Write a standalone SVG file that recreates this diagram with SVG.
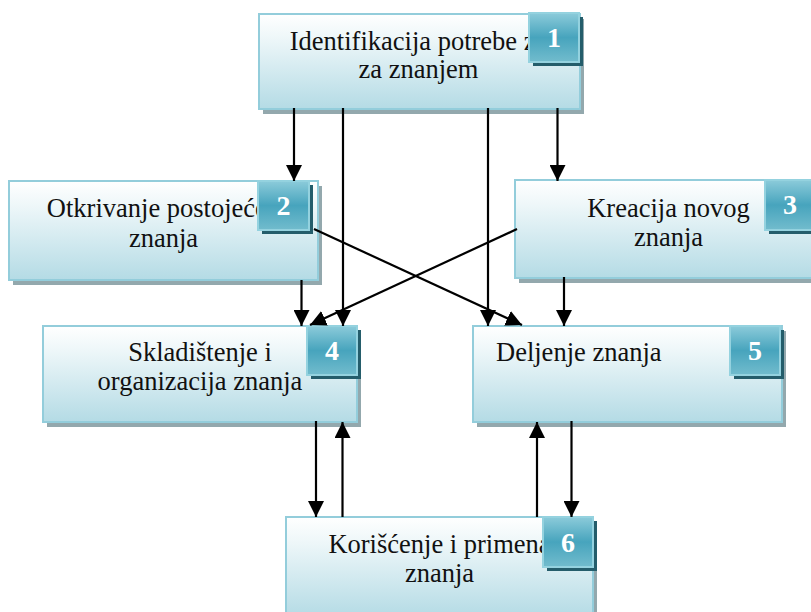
<svg xmlns="http://www.w3.org/2000/svg" width="811" height="612" viewBox="0 0 811 612">
<defs>
<linearGradient id="boxg" x1="0" y1="0" x2="0" y2="1">
<stop offset="0" stop-color="#ffffff"/>
<stop offset="0.25" stop-color="#eef7f9"/>
<stop offset="1" stop-color="#b4dbe5"/>
</linearGradient>
<linearGradient id="badgeg" x1="0" y1="0" x2="0" y2="1">
<stop offset="0" stop-color="#8ccbda"/>
<stop offset="0.5" stop-color="#47a4bd"/>
<stop offset="1" stop-color="#72bccd"/>
</linearGradient>
<marker id="arr" markerUnits="userSpaceOnUse" markerWidth="16" markerHeight="16" viewBox="0 0 16 16" refX="16" refY="8" orient="auto">
<path d="M0,0 L16,8 L0,16 Z" fill="#000"/>
</marker>
<style>
.sh{fill:#93a8ad}
.box{fill:url(#boxg);stroke:#93cddb;stroke-width:2}
.bsh{fill:#245d6b}
.badge{fill:url(#badgeg);stroke:#94d2df;stroke-width:2}
.t{font-family:"Liberation Serif","Times New Roman",serif;font-size:26.5px;fill:#111;text-anchor:middle}
.tl{text-anchor:start}
.n{font-family:"Liberation Serif","Times New Roman",serif;font-size:28px;font-weight:bold;fill:#fff;text-anchor:middle}
.c{stroke:#000;stroke-width:2.2;fill:none;marker-end:url(#arr)}
.cl{stroke:#000;stroke-width:2.2;fill:none}
</style>
</defs>
<rect width="811" height="612" fill="#fff"/>

<g id="node1">
<rect class="sh" x="263" y="19" width="321" height="95"/>
<rect class="box" x="259" y="14" width="321" height="95"/>
<text class="t" x="418.5" y="50">Identifikacija potrebe za</text>
<text class="t" x="418.5" y="78">za znanjem</text>
<rect class="bsh" x="533" y="17" width="50" height="49"/>
<rect class="badge" x="529" y="13" width="50" height="49"/>
<text class="n" x="554" y="47">1</text>
</g>

<g id="node2">
<rect class="sh" x="13" y="186" width="309" height="99"/>
<rect class="box" x="9" y="181" width="309" height="99"/>
<text class="t" x="163.5" y="217">Otkrivanje postojećeg</text>
<text class="t" x="163.5" y="247">znanja</text>
<rect class="bsh" x="262" y="185" width="51" height="49"/>
<rect class="badge" x="258" y="181" width="51" height="49"/>
<text class="n" x="283.5" y="215">2</text>
</g>

<g id="node3">
<rect class="sh" x="519" y="185" width="309" height="98"/>
<rect class="box" x="515" y="180" width="309" height="98"/>
<text class="t" x="668.5" y="217">Kreacija novog</text>
<text class="t" x="668.5" y="246">znanja</text>
<rect class="bsh" x="769" y="184" width="50" height="50"/>
<rect class="badge" x="765" y="180" width="50" height="50"/>
<text class="n" x="790" y="214">3</text>
</g>

<g id="node4">
<rect class="sh" x="47" y="331" width="314" height="96"/>
<rect class="box" x="43" y="326" width="314" height="96"/>
<text class="t" x="200" y="361">Skladištenje i</text>
<text class="t" x="200" y="390">organizacija znanja</text>
<rect class="bsh" x="311" y="330" width="50" height="49"/>
<rect class="badge" x="307" y="326" width="50" height="49"/>
<text class="n" x="332" y="360">4</text>
</g>

<g id="node5">
<rect class="sh" x="477" y="331" width="309" height="96"/>
<rect class="box" x="473" y="326" width="309" height="96"/>
<text class="t tl" x="496" y="361">Deljenje znanja</text>
<rect class="bsh" x="734" y="330" width="50" height="49"/>
<rect class="badge" x="730" y="326" width="50" height="49"/>
<text class="n" x="755" y="360">5</text>
</g>

<g id="node6">
<rect class="sh" x="290" y="522" width="307" height="100"/>
<rect class="box" x="286" y="517" width="307" height="100"/>
<text class="t" x="439.5" y="553">Korišćenje i primena</text>
<text class="t" x="439.5" y="582">znanja</text>
<rect class="bsh" x="547" y="521" width="50" height="50"/>
<rect class="badge" x="543" y="517" width="50" height="50"/>
<text class="n" x="568" y="552">6</text>
</g>

<g id="connectors">
<line class="c" x1="294" y1="108" x2="294" y2="181"/>
<line class="c" x1="343" y1="108" x2="343" y2="326"/>
<line class="c" x1="488" y1="108" x2="488" y2="326"/>
<line class="c" x1="557.5" y1="108" x2="557.5" y2="181"/>
<line class="c" x1="301.5" y1="280" x2="301.5" y2="326"/>
<line class="c" x1="564" y1="277" x2="564" y2="326"/>
<line class="c" x1="314" y1="229" x2="522" y2="325"/>
<line class="c" x1="517" y1="229" x2="310" y2="325"/>
<line class="c" x1="316" y1="421" x2="316" y2="517"/>
<line class="c" x1="342.5" y1="517" x2="342.5" y2="422"/>
<line class="c" x1="537" y1="517" x2="537" y2="422"/>
<line class="c" x1="571.5" y1="421" x2="571.5" y2="517"/>
</g>
</svg>
